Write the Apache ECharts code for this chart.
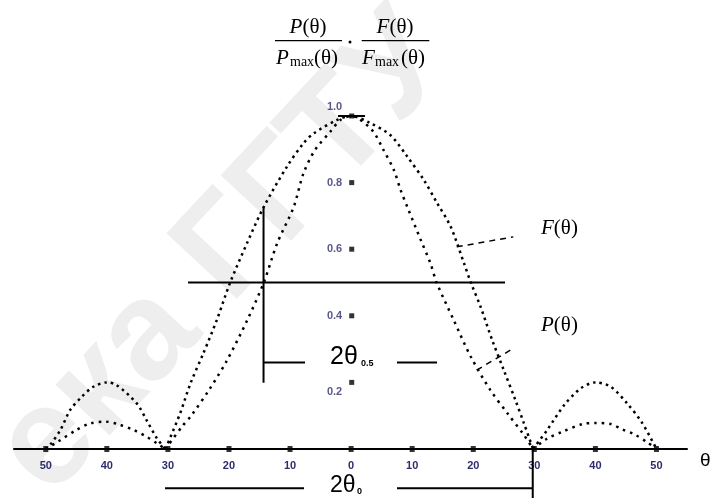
<!DOCTYPE html>
<html>
<head>
<meta charset="utf-8">
<script src="https://cdn.jsdelivr.net/npm/echarts@6/dist/echarts.min.js"></script>
<style>
  html, body { margin: 0; padding: 0; background: #fff; }
  #chart { width: 718px; height: 498px; }
</style>
</head>
<body>
<div id="chart"></div>
<script>
// угол, градусы
const thetaTicks = [-50, -40, -30, -20, -10, 0, 10, 20, 30, 40, 50];
const thetaTickLabels = ['50', '40', '30', '20', '10', '0', '10', '20', '30', '40', '50'];
const levelTicks = [0.2, 0.4, 0.6, 0.8, 1.0];
const levelTickLabels = ['0.2', '0.4', '0.6', '0.8', '1.0'];

// F(θ)/Fmax, null = разрыв между лепестками
const fTheta = [-50, -49.3, -47.6, -46, -44.1, -42.2, -40, -38.4, -35.1, -33.5, -31.8, -30.4,
    null,
    -30.4, -28, -26.3, -24.2, -22, -19.8, -17, -14.3, -10.5, -7.8, -6.1, -2.3, 0, 3, 6.4, 9.2,
    11.9, 14.1, 16.3, 18.5, 19.6, 21.2, 23.1, 25, 26.9, 28.3, 29.8,
    null,
    29.8, 32.1, 34.9, 37.6, 40, 42.5, 45.2, 47.7, 50];
const fValue = [0, 0.012, 0.057, 0.117, 0.157, 0.187, 0.2, 0.192, 0.137, 0.087, 0.032, 0,
    '-',
    0, 0.107, 0.197, 0.287, 0.387, 0.5, 0.62, 0.727, 0.848, 0.918, 0.948, 0.988, 1, 0.98, 0.943, 0.878,
    0.808, 0.738, 0.668, 0.557, 0.5, 0.427, 0.327, 0.237, 0.147, 0.077, 0,
    '-',
    0, 0.057, 0.132, 0.182, 0.2, 0.187, 0.137, 0.077, 0];

// P(θ)/Pmax
const pTheta = [-50, -48, -45, -42.7, -40.1, -38.1, -35.6, -33.5, -31.8, -30.4,
    null,
    -30.4, -27.7, -26.1, -23.1, -20.3, -17, -14.3, -12.1, -9.4, -7.8, -5.9, -3.4, -1.75, 0,
    3.4, 5.3, 7, 8.1, 9.2, 11.4, 13, 14, 16.8, 19.6, 22.8, 25.6, 28.3, 29.8,
    null,
    29.8, 32, 34.6, 37.9, 40, 42.5, 44.4, 46.3, 48.5, 50];
const pValue = [0, 0.022, 0.057, 0.077, 0.082, 0.074, 0.057, 0.037, 0.017, 0,
    '-',
    0, 0.067, 0.102, 0.182, 0.267, 0.387, 0.5, 0.618, 0.727, 0.828, 0.898, 0.953, 0.988, 1,
    0.958, 0.898, 0.838, 0.778, 0.727, 0.628, 0.557, 0.5, 0.387, 0.277, 0.177, 0.107, 0.042, 0,
    '-',
    0, 0.03, 0.052, 0.075, 0.078, 0.075, 0.059, 0.045, 0.02, 0];

// линии-пометки (в единицах осей)
const halfLevelLine = [[-26.7, 0.5], [25.2, 0.5]];
const halfWidthLine = [[-14.34, 0.727], [-14.34, 0.199]];
const halfBracketL = [[-14.34, 0.26], [-7.55, 0.26]];
const halfBracketR = [[7.51, 0.26], [14.07, 0.26]];
const nullBracketL = [[-30.47, -0.118], [-7.71, -0.118]];
const nullBracketR = [[7.51, -0.118], [29.74, -0.118], [29.74, 0], [29.74, -0.147]];
const peakBar = [[-2.15, 1], [2.28, 1]];
const fLeader = [[17.3, 0.607], [26.56, 0.637]];
const pLeader = [[20.57, 0.237], [26.56, 0.302]];

function pairs(xs, ys) {
    return xs.map((x, i) => x === null ? ['-', '-'] : [x, ys[i]]);
}

function solid(data, extra) {
    return Object.assign({
        type: 'line',
        data: data,
        symbol: 'none',
        silent: true,
        clip: false,
        lineStyle: { color: '#000', width: 2 },
        z: 3
    }, extra || {});
}

const serif = 'Liberation Serif';
const sans = 'Liberation Sans';

function txt(x, y, text, size, opts) {
    return {
        type: 'text',
        x: x,
        y: y,
        style: Object.assign({
            text: text,
            fontFamily: serif,
            fontSize: size,
            fill: '#000',
            textAlign: 'left',
            textVerticalAlign: 'middle'
        }, opts || {})
    };
}

const itRich = { it: { fontStyle: 'italic', fontFamily: serif, fontSize: 21 } };

const chart = echarts.init(document.getElementById('chart'));

chart.setOption({
    backgroundColor: '#fff',
    animation: false,
    grid: { left: 14, right: 31, top: 106, bottom: 49, containLabel: false, outerBoundsMode: 'none' },
    xAxis: {
        type: 'value',
        min: -55.2,
        max: 55,
        axisLine: { onZero: false, lineStyle: { color: '#000', width: 2 } },
        axisTick: { show: false },
        splitLine: { show: false },
        axisLabel: {
            customValues: thetaTicks,
            margin: 11,
            fontSize: 11,
            fontWeight: 'bold',
            fontFamily: sans,
            color: '#2d2d6e',
            formatter: v => thetaTickLabels[thetaTicks.indexOf(v)] || ''
        }
    },
    yAxis: {
        type: 'value',
        min: 0,
        max: 1.03,
        show: false
    },
    graphic: [
        // водяной знак
        {
            type: 'text',
            x: 225, y: 255,
            rotation: 0.82,
            z: -10,
            style: {
                text: 'ека ГГТУ',
                fontFamily: sans,
                fontWeight: 'bold',
                fontSize: 140,
                fill: '#eeeeee',
                textAlign: 'center',
                textVerticalAlign: 'middle'
            }
        },
        // формула над графиком
        {
            type: 'text', x: 308, y: 27,
            style: { text: '{it|P}(θ)', rich: itRich, fontFamily: serif, fontSize: 21, fill: '#000', textAlign: 'center', textVerticalAlign: 'middle' }
        },
        { type: 'line', shape: { x1: 275, y1: 40.7, x2: 342, y2: 40.7 }, style: { stroke: '#000', lineWidth: 1.2 } },
        txt(276, 58, 'P', 21, { fontStyle: 'italic' }),
        txt(290, 62, 'max', 14),
        txt(314, 58, '(θ)', 21),
        { type: 'circle', shape: { cx: 350, cy: 42, r: 1.5 }, style: { fill: '#000' } },
        {
            type: 'text', x: 395, y: 27,
            style: { text: '{it|F}(θ)', rich: itRich, fontFamily: serif, fontSize: 21, fill: '#000', textAlign: 'center', textVerticalAlign: 'middle' }
        },
        { type: 'line', shape: { x1: 361.7, y1: 40.7, x2: 429.3, y2: 40.7 }, style: { stroke: '#000', lineWidth: 1.2 } },
        txt(362, 58, 'F', 21, { fontStyle: 'italic' }),
        txt(375, 62, 'max', 14),
        txt(401, 58, '(θ)', 21),
        // подписи кривых
        {
            type: 'text', x: 541, y: 228,
            style: { text: '{it|F}(θ)', rich: itRich, fontFamily: serif, fontSize: 21, fill: '#000', textAlign: 'left', textVerticalAlign: 'middle' }
        },
        {
            type: 'text', x: 541, y: 325,
            style: { text: '{it|P}(θ)', rich: itRich, fontFamily: serif, fontSize: 21, fill: '#000', textAlign: 'left', textVerticalAlign: 'middle' }
        },
        // ширина по половинной мощности и по нулям
        txt(330, 357, '2θ', 25, { fontFamily: sans }),
        txt(361, 364, '0.5', 9, { fontFamily: sans, fontWeight: 'bold' }),
        txt(330, 486, '2θ', 23, { fontFamily: sans }),
        txt(357, 492, '0', 9, { fontFamily: sans, fontWeight: 'bold' }),
        txt(700, 461, 'θ', 19, { fontFamily: sans })
    ],
    series: [
        {
            name: 'F',
            type: 'line',
            data: pairs(fTheta, fValue),
            symbol: 'none',
            smooth: 0.3,
            connectNulls: false,
            silent: true,
            clip: false,
            lineStyle: { color: '#000', width: 2.5, type: [2.5, 4] },
            z: 2
        },
        {
            name: 'P',
            type: 'line',
            data: pairs(pTheta, pValue),
            symbol: 'none',
            smooth: 0.3,
            connectNulls: false,
            silent: true,
            clip: false,
            lineStyle: { color: '#000', width: 2.5, type: [2.5, 5] },
            z: 2
        },
        solid(halfLevelLine),
        solid(halfWidthLine),
        solid(halfBracketL),
        solid(halfBracketR),
        solid(nullBracketL),
        solid(nullBracketR),
        solid(peakBar),
        solid(fLeader, { lineStyle: { color: '#000', width: 1.5, type: [6, 5] } }),
        solid(pLeader, { lineStyle: { color: '#000', width: 1.5, type: [6, 5] } }),
        {
            name: 'theta ticks',
            type: 'scatter',
            data: thetaTicks.map(t => [t, 0]),
            symbol: 'rect',
            symbolSize: [5, 6],
            itemStyle: { color: '#000' },
            silent: true,
            clip: false,
            z: 4
        },
        {
            name: 'level ticks',
            type: 'scatter',
            data: levelTicks.map((v, i) => ({
                value: [0.1, v],
                label: {
                    formatter: levelTickLabels[i],
                    offset: v === 1.0 ? [0, -9] : (v === 0.2 ? [0, 10] : [0, 0])
                }
            })),
            symbol: 'rect',
            symbolSize: 5,
            itemStyle: { color: '#000' },
            label: {
                show: true,
                position: 'left',
                distance: 7,
                fontSize: 11,
                fontWeight: 'bold',
                fontFamily: sans,
                color: '#2d2d6e'
            },
            silent: true,
            clip: false,
            z: 4
        }
    ]
});
</script>
</body>
</html>
